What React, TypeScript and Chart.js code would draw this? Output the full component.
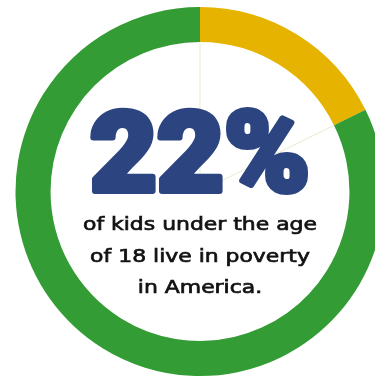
import React, { useEffect, useRef } from "react";
import { Chart, registerables } from "chart.js";

Chart.register(...registerables);

const labels = ["Kids in poverty", "Other kids"];
const values = [17.7, 82.3];
const colors = ["#E5B300", "#339C34"];
const headline = "22%";
const captionLines = ["of kids under the age", "of 18 live in poverty", "in America."];

const centerPlugin = {
  id: "centerText",
  afterDatasetsDraw(chart: any) {
    const meta = chart.getDatasetMeta(0);
    const ctx = chart.ctx;
    ctx.save();
    ctx.strokeStyle = "rgba(215,215,170,0.55)";
    ctx.lineWidth = 1;
    meta.data.forEach((arc: any) => {
      const a = arc.startAngle;
      const r = arc.innerRadius;
      ctx.beginPath();
      ctx.moveTo(arc.x, arc.y);
      ctx.lineTo(arc.x + r * Math.cos(a), arc.y + r * Math.sin(a));
      ctx.stroke();
    });
    ctx.restore();
  },
  afterDraw(chart: any) {
    const meta = chart.getDatasetMeta(0);
    const arc = meta.data[0];
    const cx = arc.x;
    const cy = arc.y;
    const ctx = chart.ctx;
    ctx.save();
    ctx.fillStyle = "#2C4580";
    ctx.strokeStyle = "#2C4580";
    ctx.lineJoin = "round";
    ctx.textAlign = "left";
    ctx.textBaseline = "alphabetic";
    ctx.font = '900 112px Roboto, "DejaVu Sans", sans-serif';
    const w = ctx.measureText(headline).width;
    const target = 220;
    ctx.translate(cx - target / 2, cy - 1);
    ctx.scale(target / w, 1);
    ctx.lineWidth = 6;
    ctx.strokeText(headline, 0, 0);
    ctx.fillText(headline, 0, 0);
    ctx.restore();

    ctx.save();
    ctx.fillStyle = "#111111";
    ctx.strokeStyle = "#111111";
    ctx.lineWidth = 0.7;
    ctx.textBaseline = "alphabetic";
    ctx.textAlign = "center";
    ctx.font = '500 18.5px "DejaVu Sans", sans-serif';
    const w1 = ctx.measureText(captionLines[0]).width;
    const s = 234 / w1;
    const baselines = [38.5, 70, 101.5];
    captionLines.forEach((line, i) => {
      ctx.save();
      ctx.translate(cx, cy + baselines[i]);
      ctx.scale(s, 1);
      ctx.strokeText(line, 0, 0);
      ctx.fillText(line, 0, 0);
      ctx.restore();
    });
    ctx.restore();
  },
};

export default function App() {
  const ref = useRef<HTMLCanvasElement | null>(null);
  useEffect(() => {
    if (!ref.current) return;
    const chart = new Chart(ref.current, {
      type: "doughnut",
      data: {
        labels,
        datasets: [
          {
            data: values,
            backgroundColor: colors,
            borderWidth: 0,
            hoverOffset: 0,
          },
        ],
      },
      options: {
        animation: false,
        responsive: false,
        cutout: "81%",
        rotation: 0,
        layout: { padding: 7 },
        plugins: {
          legend: { display: false },
          tooltip: { enabled: false },
        },
      },
      plugins: [centerPlugin],
    });
    return () => chart.destroy();
  }, []);
  return (
    <div style={{ position: "fixed", left: 0, top: 0, width: 375, height: 377, overflow: "hidden", background: "#fff" }}>
      <canvas ref={ref} width={400} height={383} style={{ display: "block", width: 400, height: 383 }} />
    </div>
  );
}
